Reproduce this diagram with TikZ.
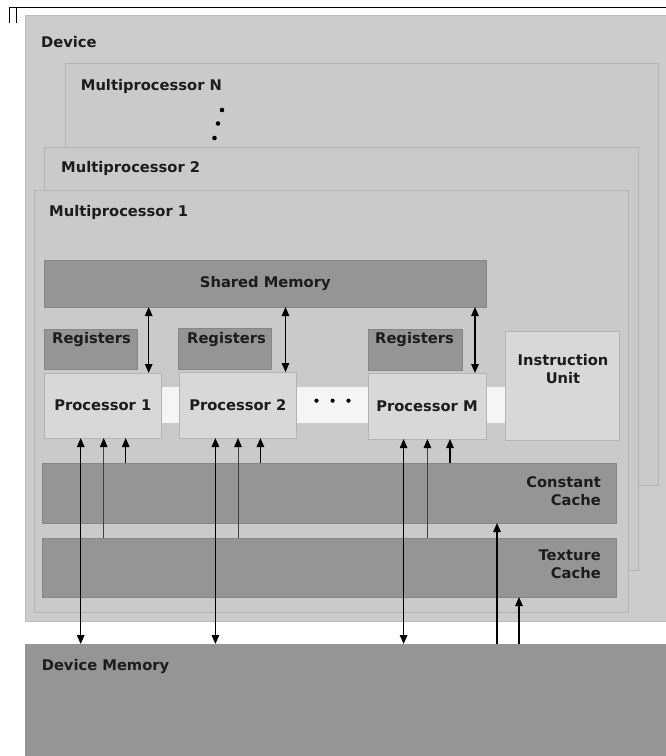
\documentclass[tikz,border=0pt]{standalone}
\usepackage{fontspec}
\setmainfont{DejaVu Sans}
\usetikzlibrary{arrows.meta}

\definecolor{devfill}{HTML}{CCCCCC}
\definecolor{mpfill}{HTML}{CACACA}
\definecolor{edgegray}{HTML}{B4B4B4}
\definecolor{memfill}{HTML}{959595}
\definecolor{procfill}{HTML}{D8D8D8}
\definecolor{bandfill}{HTML}{F5F5F5}
\definecolor{inkgray}{HTML}{1C1C1C}

\tikzset{
  unitbox/.style={draw=edgegray, line width=0.6pt, inner sep=0pt, outer sep=0pt, anchor=north west},
  mpbox/.style={unitbox, fill=mpfill},
  membox/.style={unitbox, fill=memfill, draw=memfill!90!black},
  procbox/.style={unitbox, fill=procfill},
  lbl/.style={font=\bfseries\fontsize{14.7}{18}\selectfont, text=inkgray, inner sep=0pt},
  dblarrow/.style={{Triangle[length=9pt,width=7.5pt]}-{Triangle[length=9pt,width=7.5pt]}, line width=1.3pt, draw=black},
  uparrow/.style={-{Triangle[length=9pt,width=7.5pt]}, line width=1.3pt, draw=black},
  thinup/.style={-{Triangle[length=9pt,width=7.5pt,black]}, line width=0.9pt, draw=black!75}
}

\begin{document}
\begin{tikzpicture}[x=1pt,y=1pt,yscale=-1,xscale=1]
\useasboundingbox (0,0) rectangle (666,756);
\fill[white] (0,0) rectangle (666,756);

% corner mark at the top
\draw[line width=1pt] (9,7.5) -- (666,7.5);
\draw[line width=0.8pt] (9,7.5) -- (9,23) (16,7.5) -- (16,23);

% device and multiprocessors
\node[unitbox, fill=devfill, draw=devfill!92!black, minimum width=641pt, minimum height=606pt] (dev) at (25,15) {};
\node[mpbox, minimum width=593pt, minimum height=422pt] (mpn) at (65,63) {};
\node[mpbox, minimum width=594pt, minimum height=423pt] (mp2) at (44.6,147) {};
\node[mpbox, minimum width=594pt, minimum height=422pt] (mp1) at (34,190) {};

% shared memory, registers, processors
\node[membox, minimum width=441.4pt, minimum height=47pt, lbl] (shm) at (44.6,260) {Shared Memory};
\node[membox, minimum width=92.4pt, minimum height=40pt] (reg1) at (44.6,329) {};
\node[membox, minimum width=93pt, minimum height=41pt] (reg2) at (178,328) {};
\node[membox, minimum width=94pt, minimum height=41pt] (regm) at (368,329) {};
\node[unitbox, fill=bandfill, draw=none, minimum width=344.5pt, minimum height=36pt] (band) at (161,387) {};
\node[procbox, minimum width=116.4pt, minimum height=65pt, lbl] (p1) at (44.6,373) {Processor 1};
\node[procbox, minimum width=117.5pt, minimum height=66pt, lbl] (p2) at (179,372) {Processor 2};
\node[procbox, minimum width=118pt, minimum height=66pt, lbl] (pm) at (368,373) {Processor M};
\node[procbox, minimum width=113.5pt, minimum height=109pt] (iu) at (505.5,331) {};

% caches and device memory
\node[membox, minimum width=573.5pt, minimum height=60pt] (cc) at (42.5,463) {};
\node[membox, minimum width=573.5pt, minimum height=59pt] (tc) at (42.5,538) {};
\node[membox, draw=none, minimum width=641pt, minimum height=112pt] (dm) at (25,644) {};

% dots
\fill[black] (222,110) circle (2.3) (218,123.5) circle (2.3) (214.5,138) circle (2.3);
\fill[black] (316.5,400.7) circle (2.1) (332.6,400.7) circle (2.1) (348.5,400.7) circle (2.1);

% Text Node
\node[lbl, anchor=west] (tdev) at (41,42) {Device};
\node[lbl, anchor=west] (tmpn) at (80.7,86) {Multiprocessor N};
\node[lbl, anchor=west] (tmp2) at (61,168) {Multiprocessor 2};
\node[lbl, anchor=west] (tmp1) at (49,212) {Multiprocessor 1};
\node[lbl, anchor=west] (treg1) at (52,339) {Registers};
\node[lbl, anchor=west] (treg2) at (187,339) {Registers};
\node[lbl, anchor=west] (tregm) at (375,339) {Registers};
\node[lbl, align=center] (tiu) at (563,369) {Instruction\\Unit};
\node[lbl, align=right, anchor=east] (tcc) at (601,491) {Constant\\Cache};
\node[lbl, align=right, anchor=east] (ttc) at (601,564) {Texture\\Cache};
\node[lbl, anchor=west] (tdm) at (41.6,666) {Device Memory};

% arrow columns
\coordinate (xr1) at (148.7,0);
\coordinate (xr2) at (285.5,0);
\coordinate (xrm) at (475,0);
\coordinate (xd1) at (80.7,0);
\coordinate (xd2) at (215.4,0);
\coordinate (xdm) at (403.6,0);
\coordinate (xt1) at (103.7,0);
\coordinate (xt2) at (238,0);
\coordinate (xtm) at (427.4,0);
\coordinate (xc1) at (125.7,0);
\coordinate (xc2) at (260.4,0);
\coordinate (xcm) at (450,0);
\coordinate (xcc) at (497,0);
\coordinate (xtc) at (519,0);

% shared memory <-> processors
\draw[dblarrow] (shm.south -| xr1) -- (p1.north -| xr1);
\draw[dblarrow] (shm.south -| xr2) -- (p2.north -| xr2);
\draw[dblarrow] (shm.south -| xrm) -- (pm.north -| xrm);
% processors <-> device memory
\draw[dblarrow] (p1.south -| xd1) -- (dm.north -| xd1);
\draw[dblarrow] (p2.south -| xd2) -- (dm.north -| xd2);
\draw[dblarrow] (pm.south -| xdm) -- (dm.north -| xdm);
% texture cache -> processors
\draw[thinup] (tc.north -| xt1) -- (p1.south -| xt1);
\draw[thinup] (tc.north -| xt2) -- (p2.south -| xt2);
\draw[thinup] (tc.north -| xtm) -- (pm.south -| xtm);
% constant cache -> processors
\draw[uparrow] (cc.north -| xc1) -- (p1.south -| xc1);
\draw[uparrow] (cc.north -| xc2) -- (p2.south -| xc2);
\draw[uparrow] (cc.north -| xcm) -- (pm.south -| xcm);
% device memory -> caches
\draw[uparrow] (dm.north -| xcc) -- (cc.south -| xcc);
\draw[uparrow] (dm.north -| xtc) -- (tc.south -| xtc);

\end{tikzpicture}
\end{document}
